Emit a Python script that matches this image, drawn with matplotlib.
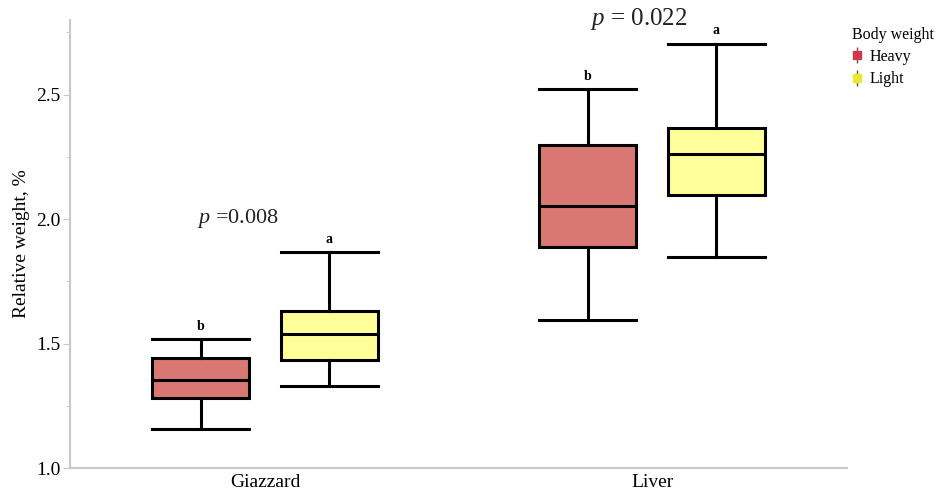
import matplotlib
matplotlib.use("Agg")
import matplotlib.pyplot as plt
from matplotlib.lines import Line2D
from matplotlib.ticker import MultipleLocator, FormatStrFormatter

plt.rcParams['font.family'] = ['Liberation Serif', 'DejaVu Serif']
plt.rcParams['mathtext.fontset'] = 'custom'
plt.rcParams['mathtext.rm'] = 'Liberation Serif'
plt.rcParams['mathtext.it'] = 'Liberation Serif:italic'

organs = ["Giazzard", "Liver"]
groups = ["Heavy", "Light"]

# box statistics per organ, per group: (whislo, q1, med, q3, whishi)
heavy_stats = [(1.157, 1.281, 1.353, 1.442, 1.518),
               (1.594, 1.886, 2.053, 2.297, 2.521)]
light_stats = [(1.329, 1.434, 1.538, 1.631, 1.867),
               (1.849, 2.096, 2.261, 2.368, 2.705)]
letters_heavy = ["b", "b"]
letters_light = ["a", "a"]
p_labels = [" =0.008", " = 0.022"]

fill_colors = {"Heavy": "#D97873", "Light": "#FFFF99"}
legend_colors = {"Heavy": "#D2374A", "Light": "#E8E82E"}

fig = plt.figure(figsize=(9.36, 4.91), dpi=100)
ax = fig.add_axes([0.0748, 0.0468, 0.8302, 0.9125])

offset = 0.166
width = 0.25

for stats_list, grp, sign, letters in [(heavy_stats, "Heavy", -1, letters_heavy),
                                       (light_stats, "Light", 1, letters_light)]:
    bxp_stats = []
    for s in stats_list:
        lo, q1, med, q3, hi = s
        bxp_stats.append(dict(whislo=lo, q1=q1, med=med, q3=q3, whishi=hi, fliers=[]))
    pos = [i + sign * offset for i in range(len(organs))]
    ax.bxp(bxp_stats, positions=pos, widths=width, patch_artist=True,
           showfliers=False, capwidths=width,
           boxprops=dict(facecolor=fill_colors[grp], edgecolor="black", linewidth=2.2),
           medianprops=dict(color="black", linewidth=2.2),
           whiskerprops=dict(color="black", linewidth=2.2),
           capprops=dict(color="black", linewidth=2.2))
    for x, s, lt in zip(pos, stats_list, letters):
        ax.text(x, s[4] + 0.025, lt, ha="center", va="bottom",
                fontsize=10, fontweight="bold")

# p-values above each organ
p_x = [-0.176, 0.84]
p_y = [2.004, 2.805]
p_size = [16, 18]
for x, y, lab, fs in zip(p_x, p_y, p_labels, p_size):
    ax.text(x, y, r"$\it{p}$" + lab, ha="left", va="center", fontsize=fs,
            color="#222222")

ax.set_xlim(-0.504, 1.504)
ax.set_ylim(1.0, 2.8)
ax.set_xticks(range(len(organs)))
ax.set_xticklabels(organs, fontsize=14)
ax.tick_params(axis="x", length=0, pad=4)
ax.yaxis.set_major_locator(MultipleLocator(0.5))
ax.yaxis.set_minor_locator(MultipleLocator(0.25))
ax.tick_params(axis="y", which="major", length=5, color="#c8c8c8", labelsize=14, pad=2)
ax.tick_params(axis="y", which="minor", length=3, color="#c8c8c8")
ax.yaxis.set_major_formatter(FormatStrFormatter("%.1f"))
ax.set_ylabel("Relative weight, %", fontsize=14, labelpad=4)

for side in ["top", "right"]:
    ax.spines[side].set_visible(False)
for side in ["left", "bottom"]:
    ax.spines[side].set_color("#c8c8c8")
    ax.spines[side].set_linewidth(1.5)

handles = []
for grp in groups:
    stem = Line2D([], [], marker="|", color="#555555", markersize=11,
                  linestyle="none", markeredgewidth=1)
    sq = Line2D([], [], marker="s", color=legend_colors[grp], markersize=6,
                linestyle="none")
    handles.append((stem, sq))
fig.legend(handles, groups, title="Body weight", loc="upper left",
           bbox_to_anchor=(0.895, 0.975), frameon=False, fontsize=11.5,
           title_fontsize=11.5, handlelength=0.6, handletextpad=0.5,
           labelspacing=0.4, alignment="left")

fig.savefig("out.png", dpi=100)
